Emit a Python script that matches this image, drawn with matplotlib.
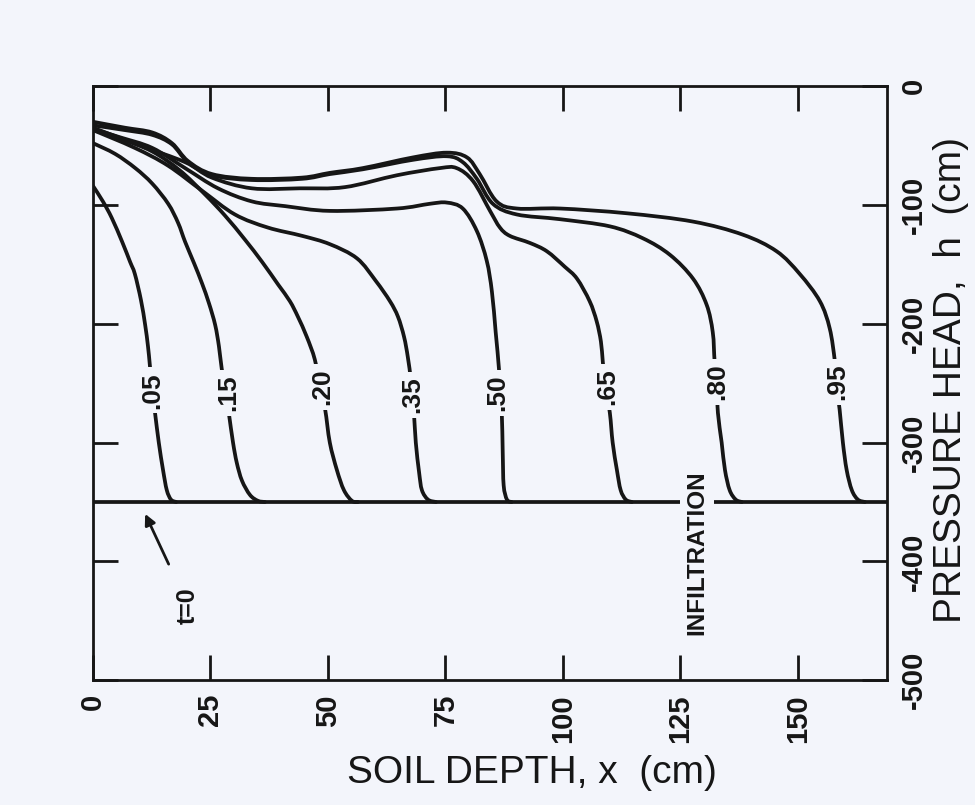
import matplotlib
matplotlib.use('Agg')
import matplotlib.pyplot as plt
from matplotlib.path import Path
from matplotlib.patches import PathPatch

# pressure head profiles h(x) at successive times
x_05 = [0, 2.1, 4.0, 6.2, 7.9, 8.9, 10.2, 11.1, 11.7, 12.1, 12.6, 13.2, 14.0, 14.9, 15.7, 16.6, 17.7]
h_05 = [-84, -97, -111, -131, -148, -158, -180, -201, -219, -235, -256, -275, -300, -323, -340, -348, -350]

x_15 = [0, 4.7, 9.0, 12.6, 16.0, 18.1, 19.6, 21.5, 23.2, 24.7, 26.0, 26.8, 27.4, 28.3, 28.9, 29.8, 30.6,
        31.7, 33.4, 35.1, 36.6]
h_15 = [-48, -57, -69, -82, -99, -115, -131, -149, -166, -183, -201, -219, -238, -258, -275, -300, -317,
        -332, -344, -349, -350]

x_20 = [0, 5.7, 12.6, 18.5, 23.8, 28.1, 32.3, 36.0, 39.4, 41.9, 43.6, 45.5, 47.2, 48.3, 49.4, 50.4, 51.9,
        53.4, 55.1, 56.4]
h_20 = [-37, -44, -55, -71, -91, -109, -129, -148, -167, -181, -194, -211, -230, -253, -272, -300, -323,
        -340, -349, -350]

x_35 = [0, 8.9, 16.0, 23.2, 30.2, 37.2, 44.5, 50.4, 56.2, 60.2, 63.2, 64.9, 66.2, 67.0, 67.7, 68.3, 68.7,
        69.4, 70.0, 71.3, 73.0]
h_35 = [-37, -52, -67, -88, -108, -119, -126, -133, -145, -164, -181, -194, -211, -228, -249, -275, -300,
        -325, -340, -348, -350]

x_50 = [0, 5.7, 12.6, 19.6, 26.6, 33.8, 40.9, 50.4, 64.7, 71.7, 75.3, 78.7, 81.7, 83.8, 84.9, 85.7, 86.4,
        86.6, 87.0, 87.2, 87.4, 88.1, 89.1]
h_50 = [-36, -43, -52, -69, -86, -97, -101, -105, -103, -99, -98, -103, -122, -147, -173, -207, -238,
        -258, -275, -308, -336, -348, -350]

x_65 = [0, 10.0, 19.6, 25.3, 33.8, 44.0, 53.6, 64.7, 73.8, 77.4, 80.9, 84.5, 86.6, 88.7, 93.0, 96.6, 100.4,
        103.0, 105.7, 107.2, 108.1, 108.5, 109.1, 110.0, 110.6, 111.5, 112.3, 113.4, 114.7]
h_65 = [-35, -50, -64, -77, -86, -86, -85, -75, -69, -69, -80, -105, -119, -126, -132, -139, -152,
        -162, -181, -198, -215, -232, -253, -275, -300, -323, -340, -348, -350]

x_80 = [0, 6.8, 12.6, 16.8, 20.2, 25.3, 33.8, 44.5, 50.4, 57.4, 68.1, 75.3, 78.7, 81.7, 85.1, 90.2, 99.4,
        110.0, 117.0, 122.8, 127.7, 130.6, 131.9, 132.3, 132.8, 133.0, 133.8, 134.5, 135.5, 136.8, 138.1]
h_80 = [-33, -37, -41, -49, -64, -75, -79, -78, -74, -70, -62, -59, -64, -78, -99, -108, -112,
        -118, -128, -142, -162, -184, -207, -232, -253, -275, -300, -323, -340, -348, -350]

x_95 = [0, 6.8, 12.6, 16.8, 20.2, 25.3, 33.8, 44.5, 50.4, 57.4, 68.1, 75.3, 79.6, 82.3, 85.9, 90.2, 99.4,
        113.6, 127.7, 138.3, 145.5, 150.4, 154.7, 156.8, 157.9, 158.3, 158.9, 159.6, 160.4, 161.5, 162.8, 164.3]
h_95 = [-30, -35, -39, -48, -63, -74, -78, -77, -73, -69, -60, -56, -60, -74, -97, -103, -103,
        -107, -114, -125, -139, -158, -181, -204, -232, -253, -272, -300, -323, -340, -348, -350]

times = ['.05', '.15', '.20', '.35', '.50', '.65', '.80', '.95']
label_x = [12.6, 28.7, 48.7, 67.9, 86.0, 109.4, 132.8, 158.3]
label_h = [-256, -258, -253, -260, -258, -253, -249, -249]

# initial condition (t=0)
t0_h = -350
t0_x = [0, 169]

x_ticks = [0, 25, 50, 75, 100, 125, 150]
h_ticks = [0, -100, -200, -300, -400, -500]

ink = '#161616'
paper = '#f3f5fb'
plt.rcParams['font.family'] = ['Liberation Sans', 'DejaVu Sans']


def smooth_path(x, y):
    # catmull-rom through the read points, drawn as bezier segments
    pts = list(zip(x, y))
    verts = [pts[0]]
    codes = [Path.MOVETO]
    n = len(pts)
    for i in range(n - 1):
        p0 = pts[max(i - 1, 0)]
        p1 = pts[i]
        p2 = pts[i + 1]
        p3 = pts[min(i + 2, n - 1)]
        c1 = (p1[0] + (p2[0] - p0[0]) / 6, p1[1] + (p2[1] - p0[1]) / 6)
        c2 = (p2[0] - (p3[0] - p1[0]) / 6, p2[1] - (p3[1] - p1[1]) / 6)
        verts += [c1, c2, p2]
        codes += [Path.CURVE4] * 3
    return Path(verts, codes)


fig = plt.figure(figsize=(9.75, 8.05), dpi=100, facecolor=paper)
ax = fig.add_axes([0.0954, 0.155, 0.8144, 0.738])
ax.set_facecolor(paper)

xs = [x_05, x_15, x_20, x_35, x_50, x_65, x_80, x_95]
hs = [h_05, h_15, h_20, h_35, h_50, h_65, h_80, h_95]
for x, h in zip(xs, hs):
    ax.add_patch(PathPatch(smooth_path(x, h), fill=False, edgecolor=ink, lw=2.7,
                           capstyle='round', joinstyle='round'))

ax.plot(t0_x, [t0_h, t0_h], color=ink, lw=2.7)

for lab, lx, lh in zip(times, label_x, label_h):
    ax.text(lx, lh, lab, rotation=90, ha='center', va='center', fontsize=19, fontweight='bold',
            color=ink, bbox=dict(facecolor=paper, edgecolor='none', pad=3.5))

ax.text(128.5, -393, 'INFILTRATION', rotation=90, ha='center', va='center', fontsize=17.5,
        fontweight='bold', color=ink, bbox=dict(facecolor=paper, edgecolor='none', pad=4))

ax.annotate('t=0', xy=(11.1, -360), xytext=(20.2, -437), rotation=90, ha='center', va='center',
            fontsize=18, fontweight='bold', color=ink,
            arrowprops=dict(arrowstyle='-|>', color=ink, lw=2, shrinkA=16, shrinkB=0,
                            mutation_scale=16))

ax.set_xlim(0, 169)
ax.set_ylim(-500, 0)
ax.set_xticks(x_ticks)
ax.set_yticks(h_ticks)
ax.set_xticklabels([str(v) for v in x_ticks], rotation=90, fontsize=21, fontweight='bold')
ax.set_yticklabels([str(v) for v in h_ticks], rotation=90, fontsize=21, fontweight='bold',
                   va='center')

ax.tick_params(axis='both', direction='in', length=18, width=2, color=ink, labelcolor=ink)
ax.tick_params(axis='x', top=True, bottom=True, pad=10)
ax.tick_params(axis='y', left=True, right=True, labelleft=False, labelright=True, pad=9)
for s in ax.spines.values():
    s.set_linewidth(2)
    s.set_color(ink)

ax.set_xlabel('SOIL DEPTH, x  (cm)', fontsize=28, color=ink, ha='center', va='center')
ax.xaxis.set_label_coords(0.553, -0.157)
ax.yaxis.set_label_position('right')
ax.set_ylabel('PRESSURE HEAD,  h  (cm)', fontsize=28, rotation=90, color=ink)
ax.yaxis.label.set_va('center')
ax.yaxis.label.set_ha('center')
ax.yaxis.set_label_coords(1.08, 0.505)

fig.savefig('out.png', dpi=100, facecolor=paper)
